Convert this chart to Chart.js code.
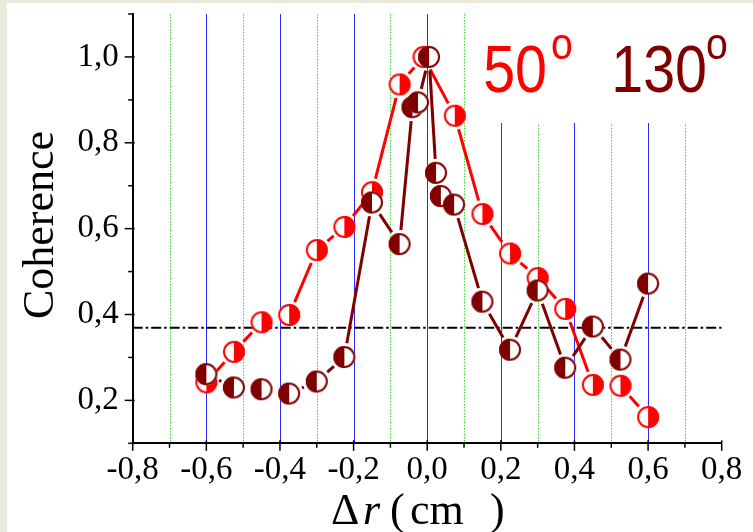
<!DOCTYPE html>
<html>
<head>
<meta charset="utf-8">
<script src="https://cdn.jsdelivr.net/npm/chart.js@4.4.0/dist/chart.umd.min.js"></script>
<style>
  html, body { margin: 0; padding: 0; background: #fff; }
  canvas { display: block; }
</style>
</head>
<body>
<canvas id="coherence" width="753" height="532"></canvas>
<script>
// 50 deg series (red)
const xRed = [-0.6, -0.525, -0.45, -0.375, -0.3, -0.225, -0.15, -0.075, -0.01, 0.075, 0.15, 0.225, 0.3, 0.375, 0.45, 0.525, 0.6];
const yRed = [0.242, 0.313, 0.382, 0.399, 0.55, 0.604, 0.685, 0.936, 1.0, 0.863, 0.634, 0.542, 0.485, 0.413, 0.236, 0.234, 0.161];

// 130 deg series (dark red)
const xDark = [-0.6, -0.525, -0.45, -0.375, -0.3, -0.225, -0.15, -0.075, -0.04, -0.025, 0.005, 0.024, 0.037, 0.073, 0.15, 0.225, 0.3, 0.375, 0.45, 0.525, 0.6];
const yDark = [0.261, 0.23, 0.226, 0.216, 0.244, 0.301, 0.661, 0.564, 0.883, 0.894, 1.0, 0.73, 0.676, 0.656, 0.43, 0.318, 0.456, 0.276, 0.372, 0.295, 0.472];

const legendLabels = ['50', '130'];
const threshold = 0.369;   // 1/e level
const xRange = [-0.8, 0.8];
const yRange = [0.1, 1.1];

const RED = '#ff0000';
const DARK = '#800000';
const GAP = 14;

function pts(xs, ys) {
  return xs.map((x, i) => ({ x: x, y: ys[i] }));
}

// half filled circle marker
function halfDisc(color, fillRight) {
  const r = 11, s = 26, m = s / 2;
  const c = document.createElement('canvas');
  c.width = s; c.height = s;
  const g = c.getContext('2d');
  g.fillStyle = '#fff';
  g.beginPath(); g.arc(m, m, r, 0, Math.PI * 2); g.fill();
  g.fillStyle = color;
  g.beginPath();
  if (fillRight) g.arc(m, m, r, -Math.PI / 2, Math.PI / 2);
  else g.arc(m, m, r, Math.PI / 2, Math.PI * 1.5);
  g.closePath(); g.fill();
  g.strokeStyle = color; g.lineWidth = 2;
  g.beginPath(); g.arc(m, m, r - 1, 0, Math.PI * 2); g.stroke();
  return c;
}

// leave a gap round each marker, like the original plot
function trimDash(c) {
  const L = Math.hypot(c.p1.x - c.p0.x, c.p1.y - c.p0.y);
  if (L <= 2 * GAP + 1) return [0, L + 50];
  return [0, GAP, L - 2 * GAP, L + 50];
}

function commaLabel(v) {
  const k = Math.round(v * 10);
  if (k % 2 !== 0) return '';
  return (k / 10).toFixed(1).replace('.', ',');
}

const decor = {
  id: 'decor',
  beforeDraw(chart) {
    const g = chart.ctx;
    g.save();
    g.fillStyle = '#fff';
    g.fillRect(0, 0, chart.width, chart.height);
    g.fillStyle = '#ebe9dc';
    g.fillRect(0, 0, 7, chart.height);
    g.fillRect(0, 0, chart.width, 3);
    g.restore();
  },
  beforeDatasetsDraw(chart) {
    const g = chart.ctx, a = chart.chartArea, xs = chart.scales.x;
    g.save();
    for (let k = -7; k <= 7; k++) {
      const px = Math.round(xs.getPixelForValue(k / 10)) + 0.5;
      g.beginPath();
      if (k % 2 === 0) { g.strokeStyle = '#2a2aff'; g.setLineDash([]); }
      else { g.strokeStyle = '#33e033'; g.setLineDash([1.5, 1.5]); }
      g.lineWidth = 1;
      g.moveTo(px, a.top); g.lineTo(px, a.bottom);
      g.stroke();
    }
    g.setLineDash([]);
    g.fillStyle = '#fff';
    g.fillRect(472, 11, 270, 112);
    g.restore();
  },
  afterDraw(chart) {
    const g = chart.ctx, a = chart.chartArea, xs = chart.scales.x, ys = chart.scales.y;
    g.save();
    g.strokeStyle = '#000';
    g.lineWidth = 1.5;
    for (let k = -8; k <= 8; k++) {
      const px = xs.getPixelForValue(k / 10);
      g.beginPath();
      if (k % 2 === 0) { g.moveTo(px, a.bottom - 3); g.lineTo(px, a.bottom + 7.5); }
      else { g.moveTo(px, a.bottom); g.lineTo(px, a.bottom + 4.5); }
      g.stroke();
    }
    for (let k = 1; k <= 11; k++) {
      const py = ys.getPixelForValue(k / 10);
      g.beginPath();
      if (k % 2 === 0) { g.moveTo(a.left - 8, py); g.lineTo(a.left + 2, py); }
      else { g.moveTo(a.left - 4.5, py); g.lineTo(a.left, py); }
      g.stroke();
    }

    // legend text
    const sx = 0.87;
    function word(txt, x, y, size, color, align) {
      g.save();
      g.translate(x, y);
      g.scale(sx, 1);
      g.font = size + 'px "Liberation Sans", Arial, sans-serif';
      g.fillStyle = color;
      g.textAlign = align;
      g.textBaseline = 'alphabetic';
      g.fillText(txt, 0, 0);
      g.restore();
    }
    word(legendLabels[0], 547, 92, 66, RED, 'right');
    word('o', 551, 59, 45, RED, 'left');
    word(legendLabels[1], 707, 92, 66, DARK, 'right');
    word('o', 706, 59, 45, DARK, 'left');

    // axis titles
    g.fillStyle = '#000';
    g.textBaseline = 'alphabetic';
    g.textAlign = 'left';
    g.font = '44px "Liberation Serif", "Times New Roman", serif';
    g.fillText('\u0394', 331, 524);
    g.fillText('(', 390, 524);
    g.fillText('cm', 410, 524);
    g.fillText(')', 490, 524);
    g.font = 'italic 44px "Liberation Serif", "Times New Roman", serif';
    g.fillText('r', 363, 524);

    g.save();
    g.translate(53, 225);
    g.rotate(-Math.PI / 2);
    g.textAlign = 'center';
    g.font = '44px "Liberation Serif", "Times New Roman", serif';
    g.fillText('Coherence', 0, 0);
    g.restore();
    g.restore();
  }
};

const tickFont = { family: '"Liberation Serif", "Times New Roman", serif', size: 33 };

new Chart(document.getElementById('coherence'), {
  type: 'scatter',
  data: {
    datasets: [
      {
        label: '130\u00b0',
        data: pts(xDark, yDark),
        showLine: true,
        borderColor: DARK,
        borderWidth: 3,
        pointStyle: halfDisc(DARK, false),
        pointRadius: 11,
        segment: { borderDash: trimDash }
      },
      {
        label: '50\u00b0',
        data: pts(xRed, yRed),
        showLine: true,
        borderColor: RED,
        borderWidth: 3,
        pointStyle: halfDisc(RED, true),
        pointRadius: 11,
        segment: { borderDash: trimDash }
      },
      {
        label: '1/e',
        data: pts(xRange, [threshold, threshold]),
        showLine: true,
        borderColor: '#000',
        borderWidth: 2,
        borderDash: [10, 3, 2.5, 3],
        pointRadius: 0
      }
    ]
  },
  options: {
    responsive: false,
    animation: false,
    devicePixelRatio: 1,
    layout: { padding: { top: 8.5, right: 31.3, left: 0, bottom: 0 } },
    plugins: { legend: { display: false }, tooltip: { enabled: false } },
    scales: {
      x: {
        type: 'linear',
        min: xRange[0], max: xRange[1],
        ticks: { stepSize: 0.1, autoSkip: false, maxRotation: 0, color: '#000', font: tickFont, padding: 7, callback: commaLabel },
        grid: { drawOnChartArea: false, drawTicks: false },
        border: { color: '#000', width: 2 },
        afterFit: s => { s.height = 88.7; s.paddingLeft = 0; s.paddingRight = 0; }
      },
      y: {
        type: 'linear',
        min: yRange[0], max: yRange[1],
        ticks: { stepSize: 0.1, autoSkip: false, color: '#000', font: tickFont, padding: 14, callback: commaLabel },
        grid: { drawOnChartArea: false, drawTicks: false },
        border: { color: '#000', width: 2 },
        afterFit: s => { s.width = 132.7; s.paddingTop = 0; s.paddingBottom = 0; }
      }
    }
  },
  plugins: [decor]
});
</script>
</body>
</html>
